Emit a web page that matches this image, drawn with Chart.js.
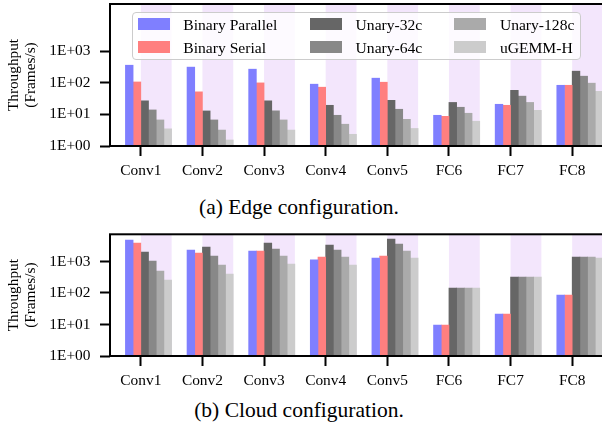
<!DOCTYPE html>
<html lang="en">
<head>
    <meta charset="UTF-8">
    <title>Throughput: Edge and Cloud configuration</title>
    <script src="https://cdn.jsdelivr.net/npm/chart.js"></script>
    <style>
        body {
            margin: 0;
            width: 602px;
            height: 432px;
            overflow: hidden;
            background: #fff;
            position: relative;
            font-family: "Liberation Serif", "Times New Roman", serif;
            color: #000;
        }
        .panel { position: absolute; left: 0; }
        .caption {
            position: absolute;
            left: 0;
            width: 598px;
            text-align: center;
            font-size: 21.5px;
            line-height: 24px;
        }
        #legend {
            position: absolute;
            left: 132px;
            top: 12.3px;
            width: 449px;
            height: 48px;
            box-sizing: border-box;
            border: 1.3px solid #cccccc;
            border-radius: 4px;
            background: rgba(255, 255, 255, 0.8);
        }
        .swatch { position: absolute; width: 32px; height: 12px; }
        .ltext { position: absolute; font-size: 15.6px; line-height: 18px; white-space: nowrap; }
    </style>
</head>
<body>
    <canvas id="edgeChart" class="panel" style="top:0px"></canvas>
    <canvas id="cloudChart" class="panel" style="top:230px"></canvas>
    <div class="caption" style="top:194.7px">(a) Edge configuration.</div>
    <div class="caption" style="top:398px">(b) Cloud configuration.</div>
    <div id="legend"></div>
    <script>
        // categories and series
        var categories = ['Conv1', 'Conv2', 'Conv3', 'Conv4', 'Conv5', 'FC6', 'FC7', 'FC8'];
        var seriesNames = ['Binary Parallel', 'Binary Serial', 'Unary-32c', 'Unary-64c', 'Unary-128c', 'uGEMM-H'];
        var seriesColors = ['#7f7fff', '#ff7f7f', '#666666', '#888888', '#aaaaaa', '#cccccc'];

        // (a) edge configuration, frames/s
        var edgeBinaryParallel = [363, 316, 272, 91, 141, 9.4, 21, 84];
        var edgeBinarySerial   = [107, 52, 100, 73, 105, 8.7, 19.5, 84];
        var edgeUnary32        = [27, 12.9, 27, 19.5, 28, 24, 58, 235];
        var edgeUnary64        = [13.9, 6.7, 13, 9.4, 14.6, 16.9, 38, 163];
        var edgeUnary128       = [6.7, 3.2, 6.7, 4.9, 7.0, 10.9, 24, 98];
        var edgeUgemm          = [3.5, 1.55, 3.2, 2.35, 3.6, 6.1, 13.5, 54];

        // (b) cloud configuration, frames/s
        var cloudBinaryParallel = [4800, 2320, 2150, 1120, 1290, 9.6, 21.5, 86];
        var cloudBinarySerial   = [3870, 1860, 2150, 1380, 1490, 9.6, 21.5, 86];
        var cloudUnary32        = [2000, 2880, 3870, 3330, 5170, 144, 322, 1380];
        var cloudUnary64        = [1040, 1490, 2500, 2320, 3600, 144, 322, 1380];
        var cloudUnary128       = [500, 774, 1490, 1380, 2150, 144, 322, 1380];
        var cloudUgemm          = [258, 400, 830, 774, 1290, 144, 322, 1290];

        // y axis
        var yTickValues = [1, 10, 100, 1000];
        var yTickLabels = ['1E+00', '1E+01', '1E+02', '1E+03'];
        var yTitle = ['Throughput', '(Frames/s)'];
        var edgeYMax = 31600;
        var cloudYMax = 7300;

        var shadeColor = 'rgb(243, 230, 252)';
        var fontFamily = '"Liberation Serif", "Times New Roman", serif';

        // light purple band behind the unary bars of each group
        var shadePlugin = {
            id: 'shade',
            beforeDatasetsDraw: function(chart) {
                var ctx = chart.ctx, a = chart.chartArea, x = chart.scales.x;
                var half = (x.getPixelForValue(1) - x.getPixelForValue(0)) / 2;
                ctx.save();
                ctx.fillStyle = shadeColor;
                categories.forEach(function(c, i) {
                    ctx.fillRect(x.getPixelForValue(i), a.top, half, a.bottom - a.top);
                });
                ctx.restore();
            }
        };

        // full box around the plot
        var framePlugin = {
            id: 'frame',
            afterDraw: function(chart) {
                var ctx = chart.ctx, a = chart.chartArea;
                ctx.save();
                ctx.strokeStyle = '#000';
                ctx.lineWidth = 2;
                ctx.strokeRect(a.left, a.top, a.right - a.left, a.bottom - a.top);
                ctx.restore();
            }
        };

        function makeChart(id, height, padTop, yMax, values) {
            var canvas = document.getElementById(id);
            canvas.width = 603;
            canvas.height = height;
            canvas.style.width = '603px';
            canvas.style.height = height + 'px';

            // two empty slots before each group so the group starts a quarter step left of the tick
            var empty = categories.map(function() { return null; });
            var datasets = [
                { label: '', data: empty, backgroundColor: 'transparent' },
                { label: '', data: empty, backgroundColor: 'transparent' }
            ];
            values.forEach(function(v, i) {
                datasets.push({ label: seriesNames[i], data: v, backgroundColor: seriesColors[i], borderWidth: 0 });
            });

            var tickGrid = { offset: false, drawOnChartArea: false, drawTicks: true, tickLength: 10, tickWidth: 2, tickColor: '#000' };

            return new Chart(canvas.getContext('2d'), {
                type: 'bar',
                data: { labels: categories, datasets: datasets },
                options: {
                    responsive: false,
                    animation: false,
                    layout: { padding: { top: padTop, left: 0, right: 0, bottom: 0 } },
                    datasets: { bar: { categoryPercentage: 1, barPercentage: 1 } },
                    plugins: { legend: { display: false }, tooltip: { enabled: false } },
                    scales: {
                        x: {
                            offset: true,
                            grid: tickGrid,
                            border: { display: false },
                            ticks: { color: '#000', font: { family: fontFamily, size: 15.4 }, padding: 6, maxRotation: 0, autoSkip: false },
                            afterFit: function(s) { s.height = 34; s.paddingLeft = 0; s.paddingRight = 0; }
                        },
                        y: {
                            type: 'logarithmic',
                            min: 1,
                            max: yMax,
                            grid: tickGrid,
                            border: { display: false },
                            afterBuildTicks: function(s) {
                                s.ticks = yTickValues.map(function(v) { return { value: v }; });
                            },
                            ticks: {
                                color: '#000',
                                font: { family: fontFamily, size: 15.4 },
                                padding: 9.5,
                                callback: function(v, i) { return yTickLabels[i]; }
                            },
                            title: {
                                display: true,
                                text: yTitle,
                                color: '#000',
                                font: { family: fontFamily, size: 15.3, lineHeight: 1.11 },
                                padding: { top: 5.5, bottom: 0 }
                            },
                            afterFit: function(s) { s.width = 110; s.paddingTop = 0; s.paddingBottom = 0; }
                        }
                    }
                },
                plugins: [shadePlugin, framePlugin]
            });
        }

        makeChart('edgeChart', 180, 4, edgeYMax,
            [edgeBinaryParallel, edgeBinarySerial, edgeUnary32, edgeUnary64, edgeUnary128, edgeUgemm]);
        makeChart('cloudChart', 160, 4.3, cloudYMax,
            [cloudBinaryParallel, cloudBinarySerial, cloudUnary32, cloudUnary64, cloudUnary128, cloudUgemm]);

        // legend, three columns of two rows
        var legendColX = [137.7, 310, 454.3];
        var legendRowY = [23.8, 46.7];
        seriesNames.forEach(function(name, i) {
            var col = Math.floor(i / 2), row = i % 2;
            var sw = document.createElement('div');
            sw.className = 'swatch';
            sw.style.left = legendColX[col] + 'px';
            sw.style.top = (legendRowY[row] - 6) + 'px';
            sw.style.background = seriesColors[i];
            document.body.appendChild(sw);
            var tx = document.createElement('div');
            tx.className = 'ltext';
            tx.textContent = name;
            tx.style.left = (legendColX[col] + 45.6) + 'px';
            tx.style.top = (legendRowY[row] - 8) + 'px';
            document.body.appendChild(tx);
        });
    </script>
</body>
</html>
